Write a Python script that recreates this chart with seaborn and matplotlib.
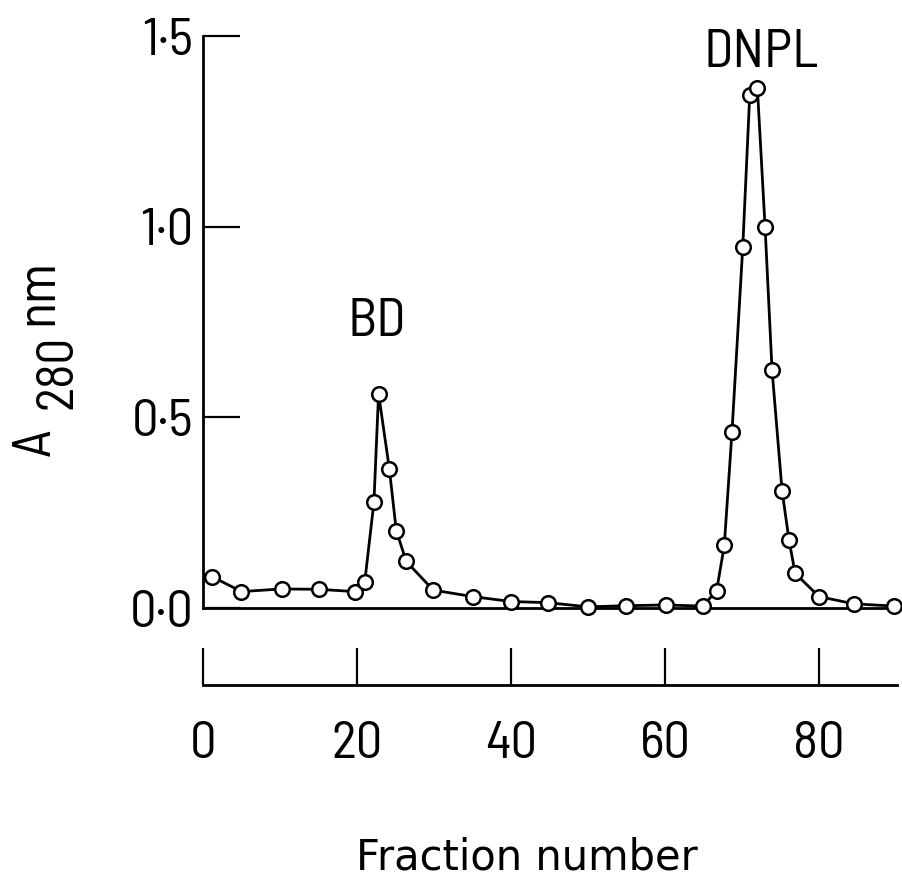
import matplotlib
matplotlib.use("Agg")
import matplotlib.pyplot as plt
import seaborn as sns
import pandas as pd

# Elution profile: absorbance at 280 nm of each collected fraction
fraction = [1.2, 5.0, 10.2, 15.1, 19.7, 21.0, 22.2, 22.8, 24.2, 25.1, 26.4,
            29.9, 35.0, 40.0, 44.8, 50.0, 54.9, 60.1, 64.9, 66.7, 67.7,
            68.7, 70.1, 71.0, 72.0, 73.0, 73.9, 75.2, 76.1, 76.9, 80.0,
            84.5, 89.8]
absorbance = [0.082, 0.043, 0.050, 0.049, 0.043, 0.067, 0.278, 0.562, 0.365,
              0.203, 0.122, 0.047, 0.030, 0.017, 0.014, 0.003, 0.006, 0.008,
              0.005, 0.045, 0.164, 0.462, 0.947, 1.344, 1.363, 0.998, 0.625,
              0.308, 0.179, 0.091, 0.030, 0.011, 0.005]

x_ticks = [0, 20, 40, 60, 80]
x_ticklabels = ["0", "20", "40", "60", "80"]
y_ticks = [0.0, 0.5, 1.0, 1.5]
y_ticklabels = ["0·0", "0·5", "1·0", "1·5"]

peak_names = ["BD", "DNPL"]
peak_label_x = [22.6, 72.5]
peak_label_y = [0.749, 1.453]

sns.set_style("white")
NARROW = ["Barlow Semi Condensed", "Barlow Condensed", "Sofia Sans Semi Condensed",
          "Archivo Narrow", "DejaVu Sans"]
plt.rcParams["font.family"] = NARROW
plt.rcParams["text.color"] = "black"

W, H = 903, 880
fig = plt.figure(figsize=(W / 100, H / 100), dpi=100)
fig.patch.set_facecolor("white")

# axes box in pixels: left 203, right 903, top 36, bottom 608
ax = fig.add_axes([203 / W, (H - 608) / H, 700 / W, 572 / H])
ax.set_facecolor("white")

df = pd.DataFrame({"fraction": fraction, "absorbance": absorbance})
sns.lineplot(data=df, x="fraction", y="absorbance", ax=ax, color="black",
             linewidth=2.0, marker="o", markersize=10.5, markerfacecolor="white",
             markeredgecolor="black", markeredgewidth=1.8, sort=False,
             clip_on=False, zorder=3)

ax.set_xlim(0, 700 / 7.7)
ax.set_ylim(0, 1.5)

# zero baseline across the plot
ax.axhline(0, color="black", linewidth=2.0, zorder=2, clip_on=False)

for s in ["top", "right"]:
    ax.spines[s].set_visible(False)
ax.spines["left"].set_linewidth(2.0)
ax.spines["left"].set_color("black")
ax.spines["bottom"].set_position(("outward", 77 * 0.72))
ax.spines["bottom"].set_bounds(0, 90.1)
ax.spines["bottom"].set_linewidth(2.0)
ax.spines["bottom"].set_color("black")

ax.set_xticks(x_ticks)
ax.set_xticklabels(x_ticklabels)
ax.set_yticks(y_ticks)
ax.set_yticklabels(y_ticklabels)
ax.tick_params(axis="x", bottom=True, direction="in", length=26.6, width=1.6,
               pad=26, labelsize=38, color="black", labelcolor="black")
ax.tick_params(axis="y", left=True, direction="in", length=26.6, width=1.6,
               pad=7, labelsize=38, color="black", labelcolor="black")

ax.set_xlabel("Fraction number", fontsize=30, family="DejaVu Sans", color="black")
ax.xaxis.set_label_coords((527 - 203) / 700, -0.40)
ax.set_ylabel("")

for name, px, py in zip(peak_names, peak_label_x, peak_label_y):
    ax.text(px, py, name, fontsize=39, ha="center", va="center", color="black")

# y-axis title: A with subscript 280 and the unit nm (rotated, baseline-anchored)
def fpos(x, y):
    return x / W, (H - y) / H

ylab = dict(rotation=90, rotation_mode="anchor", ha="center", va="baseline",
            color="black")
fig.text(*fpos(50, 442), "A", fontsize=39, **ylab)
fig.text(*fpos(72, 372), "280", fontsize=37, **ylab)
fig.text(*fpos(52, 292), "nm", fontsize=39, **ylab)

fig.savefig("out.png", dpi=100, facecolor="white")
